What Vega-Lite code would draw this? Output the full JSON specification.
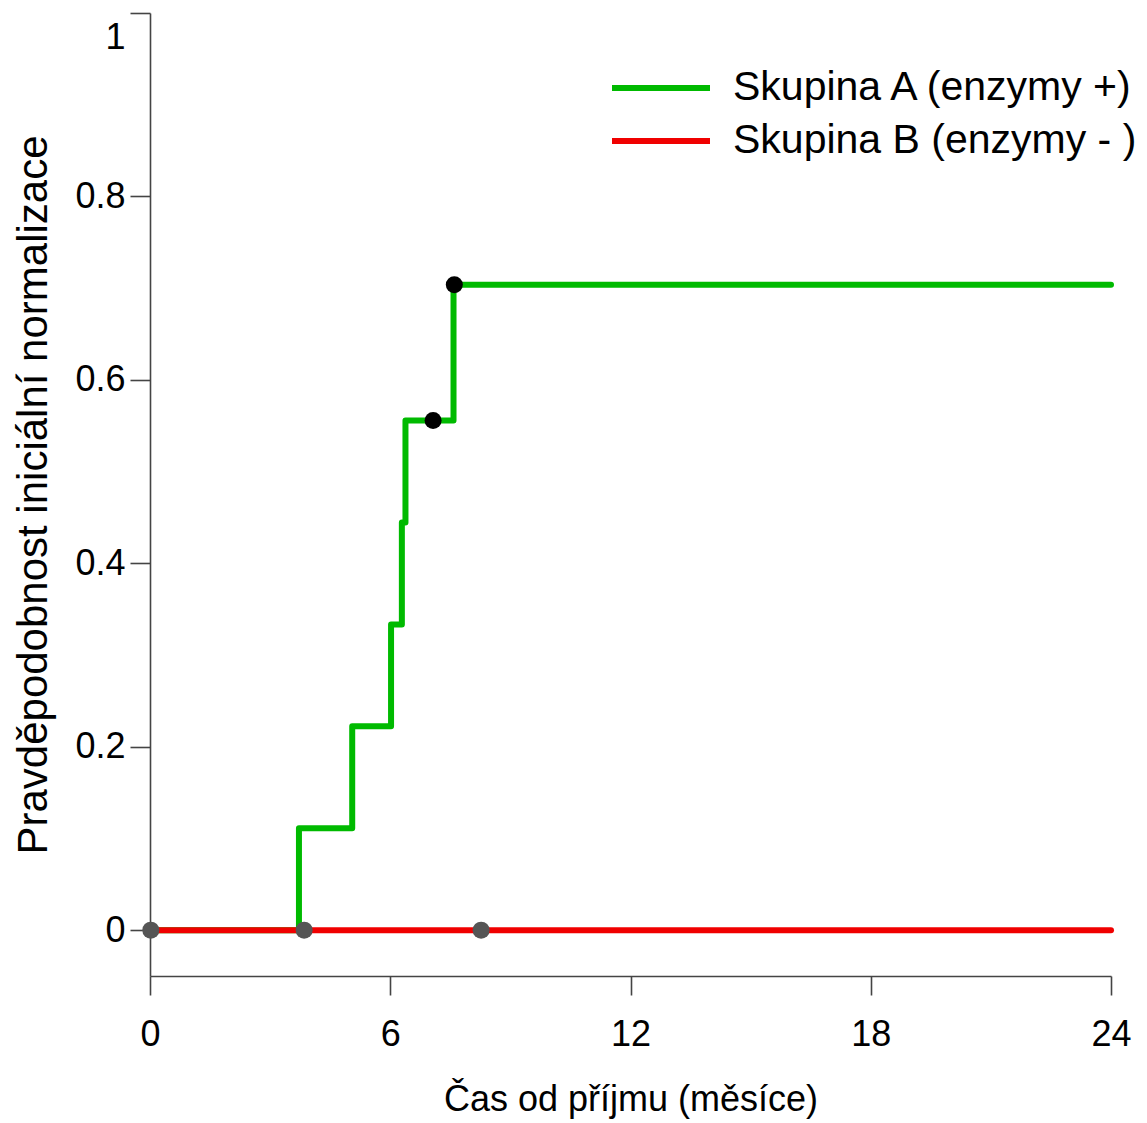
{
  "$schema": "https://vega.github.io/schema/vega-lite/v6.json",
  "width": 961,
  "height": 963,
  "autosize": {"type": "none"},
  "padding": {"left": 150, "top": 13, "right": 36, "bottom": 147},
  "background": "white",
  "config": {
    "view": {"stroke": null},
    "font": "Liberation Sans",
    "axis": {
      "grid": false,
      "domainColor": "#444444",
      "domainWidth": 1.6,
      "tickColor": "#444444",
      "tickWidth": 1.6,
      "tickSize": 19,
      "labelFont": "Liberation Sans",
      "labelFontSize": 36,
      "labelColor": "#000000",
      "titleFont": "Liberation Sans",
      "titleFontSize": 36,
      "titleFontWeight": "normal",
      "titleColor": "#000000"
    },
    "legend": {
      "labelFont": "Liberation Sans",
      "labelFontSize": 41,
      "labelColor": "#000000",
      "labelLimit": 0,
      "padding": 0,
      "title": null,
      "orient": "none",
      "symbolType": "stroke",
      "symbolSize": 9604,
      "symbolStrokeWidth": 6,
      "labelOffset": 20
    }
  },
  "datasets": {
    "curveA": [
      {"group": "Skupina A (enzymy +)", "time": 0, "prob": 0},
      {"group": "Skupina A (enzymy +)", "time": 3.72, "prob": 0.1111},
      {"group": "Skupina A (enzymy +)", "time": 5.05, "prob": 0.2222},
      {"group": "Skupina A (enzymy +)", "time": 6.02, "prob": 0.3333},
      {"group": "Skupina A (enzymy +)", "time": 6.29, "prob": 0.4444},
      {"group": "Skupina A (enzymy +)", "time": 6.38, "prob": 0.5556},
      {"group": "Skupina A (enzymy +)", "time": 7.58, "prob": 0.7037},
      {"group": "Skupina A (enzymy +)", "time": 24, "prob": 0.7037}
    ],
    "curveB": [
      {"group": "Skupina B (enzymy - )", "time": 0, "prob": 0},
      {"group": "Skupina B (enzymy - )", "time": 24, "prob": 0}
    ],
    "censorA": [
      {"time": 7.07, "prob": 0.5556},
      {"time": 7.6, "prob": 0.7037}
    ],
    "censorB": [
      {"time": 0.02, "prob": 0},
      {"time": 3.85, "prob": 0},
      {"time": 8.27, "prob": 0}
    ]
  },
  "resolve": {"scale": {"color": "independent"}, "legend": {"color": "independent"}},
  "layer": [
    {
      "data": {"name": "curveA"},
      "mark": {"type": "line", "interpolate": "step-after", "strokeWidth": 6, "strokeCap": "round", "strokeJoin": "round"},
      "encoding": {
        "x": {
          "field": "time", "type": "quantitative",
          "scale": {"domain": [0, 24], "nice": false, "zero": false},
          "axis": {"values": [0, 6, 12, 18, 24], "title": "Čas od příjmu (měsíce)", "labelPadding": 22, "titlePadding": 30, "labelFlush": false}
        },
        "y": {
          "field": "prob", "type": "quantitative",
          "scale": {"domain": [-0.05, 1], "nice": false, "zero": false},
          "axis": {
            "values": [0, 0.2, 0.4, 0.6, 0.8, 1],
            "format": "~g",
            "title": "Pravděpodobnost iniciální normalizace",
            "titleFontSize": 42,
            "labelPadding": 5,
            "labelOffset": {"condition": {"test": "datum.value === 1", "value": 24}, "value": 0},
            "titlePadding": 19,
            "tickSize": 20,
            "labelFlush": false
          }
        },
        "color": {
          "field": "group", "type": "nominal",
          "scale": {"domain": ["Skupina A (enzymy +)"], "range": ["#00BA00"]},
          "legend": {"legendX": 459, "legendY": 23}
        },
        "order": {"field": "time", "type": "quantitative"}
      }
    },
    {
      "data": {"name": "curveB"},
      "mark": {"type": "line", "interpolate": "step-after", "strokeWidth": 6, "strokeCap": "round", "strokeJoin": "round"},
      "encoding": {
        "x": {"field": "time", "type": "quantitative"},
        "y": {"field": "prob", "type": "quantitative"},
        "color": {
          "field": "group", "type": "nominal",
          "scale": {"domain": ["Skupina B (enzymy - )"], "range": ["#F00000"]},
          "legend": {"legendX": 459, "legendY": 76}
        },
        "order": {"field": "time", "type": "quantitative"}
      }
    },
    {
      "data": {"name": "censorA"},
      "mark": {"type": "point", "filled": true, "size": 290, "color": "#000000", "opacity": 1},
      "encoding": {
        "x": {"field": "time", "type": "quantitative"},
        "y": {"field": "prob", "type": "quantitative"}
      }
    },
    {
      "data": {"name": "censorB"},
      "mark": {"type": "point", "filled": true, "size": 290, "color": "#555555", "opacity": 1},
      "encoding": {
        "x": {"field": "time", "type": "quantitative"},
        "y": {"field": "prob", "type": "quantitative"}
      }
    }
  ]
}
